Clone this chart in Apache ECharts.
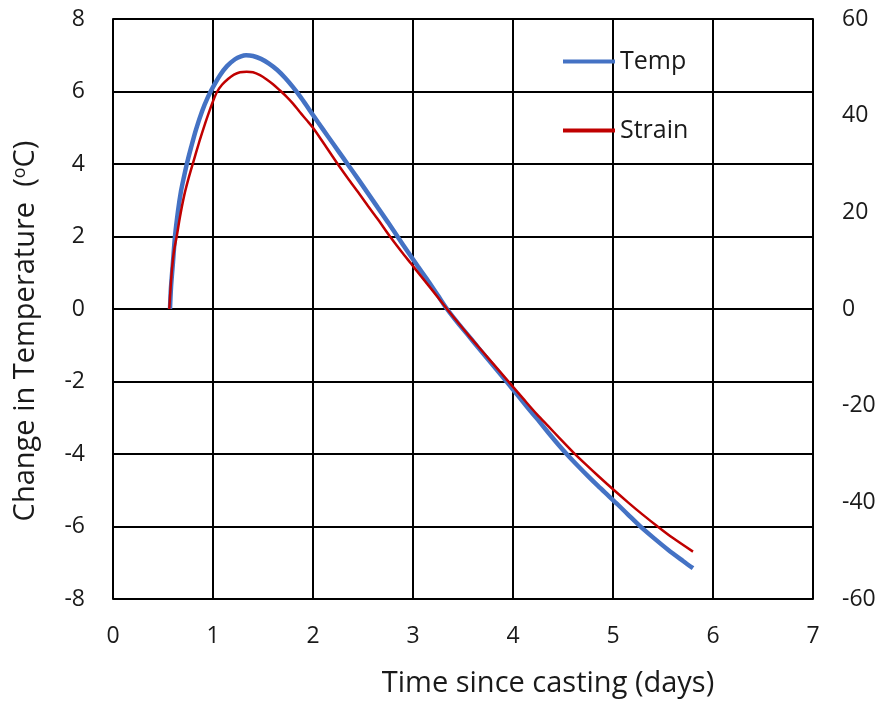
<!DOCTYPE html>
<html>
<head>
<meta charset="utf-8">
<script src="https://cdn.jsdelivr.net/npm/echarts@6/dist/echarts.min.js"></script>
<style>
  html, body { margin: 0; padding: 0; background: #fff; }
  #chart { width: 881px; height: 712px; }
</style>
</head>
<body>
<div id="chart"></div>
<script>
// Time since casting (days) and temperature change (°C), left axis
const tempDays = [0.57, 0.58, 0.60, 0.62, 0.65, 0.68, 0.71, 0.74, 0.78, 0.83, 0.89, 0.95, 1.00, 1.07, 1.14, 1.22, 1.28, 1.33, 1.40, 1.48, 1.56, 1.64, 1.72, 1.80, 1.88, 1.96, 2.05, 2.15, 2.25, 2.35, 2.45, 2.55, 2.65, 2.75, 2.85, 2.95, 3.05, 3.15, 3.25, 3.34, 3.45, 3.55, 3.65, 3.75, 3.85, 3.95, 4.05, 4.15, 4.25, 4.35, 4.45, 4.55, 4.65, 4.75, 4.85, 4.95, 5.05, 5.15, 5.27, 5.40, 5.55, 5.70, 5.80];
const tempValues = [0, 0.6, 1.3, 2.0, 2.7, 3.25, 3.65, 4.02, 4.45, 4.95, 5.45, 5.85, 6.12, 6.45, 6.7, 6.89, 6.97, 7.0, 6.98, 6.9, 6.77, 6.6, 6.38, 6.12, 5.83, 5.51, 5.15, 4.76, 4.37, 3.98, 3.59, 3.19, 2.79, 2.39, 1.98, 1.57, 1.17, 0.78, 0.37, 0, -0.39, -0.72, -1.06, -1.39, -1.72, -2.05, -2.39, -2.73, -3.06, -3.4, -3.73, -4.04, -4.33, -4.61, -4.88, -5.14, -5.4, -5.67, -5.99, -6.3, -6.64, -6.95, -7.15];

// Time since casting (days) and strain, right axis
const strainDays = [0.563, 0.575, 0.59, 0.61, 0.637, 0.67, 0.71, 0.75, 0.80, 0.86, 0.92, 0.97, 1.00, 1.04, 1.09, 1.15, 1.21, 1.27, 1.337, 1.40, 1.47, 1.537, 1.60, 1.67, 1.737, 1.80, 1.87, 1.94, 2.00, 2.10, 2.24, 2.35, 2.45, 2.55, 2.65, 2.77, 2.88, 2.98, 3.08, 3.20, 3.34, 3.45, 3.55, 3.65, 3.75, 3.85, 3.97, 4.10, 4.24, 4.35, 4.47, 4.60, 4.72, 4.85, 5.00, 5.15, 5.30, 5.44, 5.60, 5.80];
const strainValues = [0, 4.1, 8.3, 12, 15, 19.1, 23.3, 26.6, 30.2, 34.4, 38.3, 41.3, 43.0, 44.9, 46.4, 47.6, 48.5, 49.0, 49.1, 49.0, 48.4, 47.5, 46.5, 45.2, 43.9, 42.5, 40.7, 39.0, 37.5, 34.5, 30.2, 27.0, 24.2, 21.3, 18.5, 15.0, 12.0, 9.4, 6.8, 3.7, 0, -2.8, -5.3, -7.7, -10.1, -12.5, -15.4, -18.5, -21.8, -24.2, -26.8, -29.6, -32.0, -34.5, -37.3, -40.0, -42.6, -44.9, -47.4, -50.2];

// Axis ranges: [min, max, interval]
const xRange = [0, 7, 1];
const tempRange = [-8, 8, 2];
const strainRange = [-60, 60, 20];

const FONT = '"Open Sans", Lato, sans-serif';
const INK = '#1a1a1a';

const chart = echarts.init(document.getElementById('chart'), null, { renderer: 'canvas' });

chart.setOption({
  backgroundColor: '#ffffff',
  animation: false,
  textStyle: { fontFamily: FONT },
  grid: { left: 113, right: 68, top: 19, bottom: 113 },
  legend: {
    orient: 'vertical',
    left: 558,
    top: 44,
    itemGap: 44,
    itemWidth: 52,
    itemHeight: 4,
    textStyle: { fontFamily: FONT, fontSize: 25, color: INK },
    data: [
      { name: 'Temp', icon: 'rect', itemStyle: { color: '#4472C4' } },
      { name: 'Strain', icon: 'rect', itemStyle: { color: '#C00000' } }
    ]
  },
  xAxis: {
    type: 'value',
    min: xRange[0], max: xRange[1], interval: xRange[2],
    name: 'Time since casting (days)',
    nameLocation: 'middle',
    nameGap: 70,
    // title sits to the right of the plot centre
    nameTextStyle: { fontFamily: FONT, fontSize: 29, color: INK, padding: [0, 0, 0, 170] },
    axisLine: { show: true, lineStyle: { color: '#000', width: 2 } },
    axisTick: { show: false },
    axisLabel: { fontFamily: FONT, fontSize: 23, color: INK, margin: 26 },
    splitLine: { show: true, lineStyle: { color: '#000', width: 2 } }
  },
  yAxis: [
    {
      type: 'value',
      min: tempRange[0], max: tempRange[1], interval: tempRange[2],
      name: 'Change in Temperature  ({sup|o}C)',
      nameLocation: 'middle',
      nameGap: 72,
      nameRotate: 90,
      nameTextStyle: {
        fontFamily: FONT, fontSize: 29, color: INK, padding: [0, 44, 0, 0],
        rich: { sup: { fontFamily: FONT, fontSize: 18, color: INK, verticalAlign: 'top', padding: [0, 0, 12, 0] } }
      },
      axisLine: { show: true, lineStyle: { color: '#000', width: 2 } },
      axisTick: { show: false },
      axisLabel: { fontFamily: FONT, fontSize: 23, color: INK, margin: 28 },
      splitLine: { show: true, lineStyle: { color: '#000', width: 2 } }
    },
    {
      type: 'value',
      position: 'right',
      min: strainRange[0], max: strainRange[1], interval: strainRange[2],
      axisLine: { show: true, lineStyle: { color: '#000', width: 2 } },
      axisTick: { show: false },
      axisLabel: { fontFamily: FONT, fontSize: 23, color: INK, margin: 29 },
      splitLine: { show: false }
    }
  ],
  series: [
    {
      name: 'Temp',
      type: 'line',
      yAxisIndex: 0,
      smooth: 0.3,
      showSymbol: false,
      lineStyle: { color: '#4472C4', width: 4.5 },
      itemStyle: { color: '#4472C4' },
      data: tempDays.map((d, i) => [d, tempValues[i]]),
      z: 3
    },
    {
      name: 'Strain',
      type: 'line',
      yAxisIndex: 1,
      smooth: 0.3,
      showSymbol: false,
      lineStyle: { color: '#C00000', width: 2.5 },
      itemStyle: { color: '#C00000' },
      data: strainDays.map((d, i) => [d, strainValues[i]]),
      z: 4
    }
  ]
});
</script>
</body>
</html>
